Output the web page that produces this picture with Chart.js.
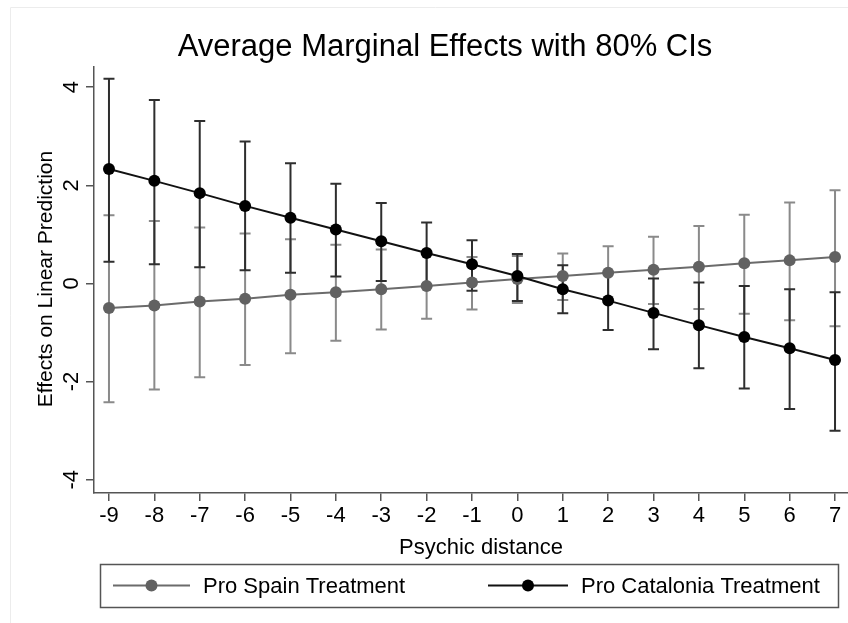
<!DOCTYPE html>
<html>
<head>
<meta charset="utf-8">
<script src="https://cdn.jsdelivr.net/npm/chart.js@4/dist/chart.umd.min.js"></script>
<style>
    html, body { margin: 0; padding: 0; background: #fff; overflow: hidden; }
    #wrap { width: 860px; height: 623px; }
</style>
</head>
<body>
<div id="wrap"><canvas id="myChart" width="860" height="623"></canvas></div>
<script>
// values
const distance = [-9, -8, -7, -6, -5, -4, -3, -2, -1, 0, 1, 2, 3, 4, 5, 6, 7];

const spainEffect = [-0.50, -0.45, -0.37, -0.31, -0.23, -0.18, -0.12, -0.05, 0.02, 0.09, 0.15, 0.22, 0.28, 0.34, 0.41, 0.47, 0.54];
const spainUpper = [1.39, 1.27, 1.14, 1.02, 0.90, 0.79, 0.69, 0.61, 0.54, 0.56, 0.61, 0.76, 0.95, 1.17, 1.40, 1.65, 1.90];
const spainLower = [-2.42, -2.16, -1.91, -1.66, -1.42, -1.17, -0.94, -0.72, -0.53, -0.40, -0.34, -0.38, -0.42, -0.52, -0.62, -0.75, -0.87];

const cataloniaEffect = [2.33, 2.09, 1.84, 1.58, 1.34, 1.10, 0.86, 0.62, 0.39, 0.15, -0.12, -0.35, -0.60, -0.85, -1.09, -1.32, -1.56];
const cataloniaUpper = [4.17, 3.74, 3.31, 2.89, 2.45, 2.03, 1.64, 1.24, 0.88, 0.60, 0.37, 0.22, 0.10, 0.02, -0.05, -0.12, -0.18];
const cataloniaLower = [0.44, 0.39, 0.33, 0.27, 0.22, 0.14, 0.05, -0.05, -0.15, -0.36, -0.61, -0.95, -1.34, -1.73, -2.14, -2.56, -3.00];

const xTicks = [-9, -8, -7, -6, -5, -4, -3, -2, -1, 0, 1, 2, 3, 4, 5, 6, 7];
const yTicks = [-4, -2, 0, 2, 4];

const seriesNames = ['Pro Spain Treatment', 'Pro Catalonia Treatment'];

const FONT = '"Liberation Sans", Arial, Helvetica, sans-serif';

function points(values) {
    return distance.map(function (d, i) { return { x: d, y: values[i] }; });
}

// capped CI bars, drawn under the lines and dots
const ciPlugin = {
    id: 'ciBars',
    beforeDatasetsDraw(chart) {
        const ctx = chart.ctx;
        const xs = chart.scales.x;
        const ys = chart.scales.y;
        const bars = [
            { lo: spainLower, hi: spainUpper, color: '#8a8a8a' },
            { lo: cataloniaLower, hi: cataloniaUpper, color: '#2e2e2e' }
        ];
        ctx.save();
        ctx.lineWidth = 2;
        for (const b of bars) {
            ctx.strokeStyle = b.color;
            for (let i = 0; i < distance.length; i++) {
                const px = xs.getPixelForValue(distance[i]);
                const top = ys.getPixelForValue(b.hi[i]);
                const bot = ys.getPixelForValue(b.lo[i]);
                ctx.beginPath();
                ctx.moveTo(px, top);
                ctx.lineTo(px, bot);
                ctx.moveTo(px - 5.5, top);
                ctx.lineTo(px + 5.5, top);
                ctx.moveTo(px - 5.5, bot);
                ctx.lineTo(px + 5.5, bot);
                ctx.stroke();
            }
        }
        ctx.restore();
    }
};

// titles, rotated y labels, legend box and outer frame
const textPlugin = {
    id: 'texts',
    afterDraw(chart) {
        const ctx = chart.ctx;
        const ys = chart.scales.y;
        ctx.save();

        ctx.strokeStyle = '#ececec';
        ctx.lineWidth = 1;
        ctx.beginPath();
        ctx.moveTo(10.5, 640);
        ctx.lineTo(10.5, 7.5);
        ctx.lineTo(900, 7.5);
        ctx.stroke();

        ctx.fillStyle = '#000';
        ctx.font = '31px ' + FONT;
        ctx.textAlign = 'center';
        ctx.textBaseline = 'alphabetic';
        ctx.fillText('Average Marginal Effects with 80% CIs', 445, 56);

        ctx.font = '22px ' + FONT;
        ctx.fillText('Psychic distance', 481, 554);

        // y tick labels, rotated like the original
        ctx.textBaseline = 'middle';
        for (const t of yTicks) {
            const py = ys.getPixelForValue(t);
            ctx.save();
            ctx.translate(72, py);
            ctx.rotate(-Math.PI / 2);
            ctx.fillText(String(t), 0, 0);
            ctx.restore();
        }

        ctx.save();
        ctx.font = '21px ' + FONT;
        ctx.translate(46, 279);
        ctx.rotate(-Math.PI / 2);
        ctx.fillText('Effects on Linear Prediction', 0, 0);
        ctx.restore();

        // legend
        ctx.strokeStyle = '#555';
        ctx.lineWidth = 1.5;
        ctx.strokeRect(100.5, 564.5, 738, 43);

        const items = [
            { x1: 113, x2: 190, line: '#6b6b6b', dot: '#616161', tx: 203 },
            { x1: 488, x2: 568, line: '#111', dot: '#000', tx: 581 }
        ];
        ctx.font = '22px ' + FONT;
        ctx.textAlign = 'left';
        ctx.textBaseline = 'alphabetic';
        items.forEach(function (it, i) {
            ctx.strokeStyle = it.line;
            ctx.lineWidth = 2;
            ctx.beginPath();
            ctx.moveTo(it.x1, 585.5);
            ctx.lineTo(it.x2, 585.5);
            ctx.stroke();
            ctx.fillStyle = it.dot;
            ctx.beginPath();
            ctx.arc((it.x1 + it.x2) / 2, 585.5, 6, 0, Math.PI * 2);
            ctx.fill();
            ctx.fillStyle = '#000';
            ctx.fillText(seriesNames[i], it.tx, 593);
        });

        ctx.restore();
    }
};

let ctx = document.getElementById('myChart').getContext('2d');
let myChart = new Chart(ctx, {
    type: 'line',
    data: {
        datasets: [{
            label: seriesNames[0],
            data: points(spainEffect),
            borderColor: '#6b6b6b',
            borderWidth: 2,
            pointRadius: 6,
            pointBorderWidth: 0,
            pointBackgroundColor: '#616161',
            order: 1
        }, {
            label: seriesNames[1],
            data: points(cataloniaEffect),
            borderColor: '#111',
            borderWidth: 2,
            pointRadius: 6,
            pointBorderWidth: 0,
            pointBackgroundColor: '#000',
            order: 0
        }]
    },
    options: {
        responsive: false,
        animation: false,
        events: [],
        layout: { padding: { left: 0, top: 67, right: 10, bottom: 0 } },
        plugins: {
            legend: { display: false },
            title: { display: false },
            tooltip: { enabled: false }
        },
        scales: {
            x: {
                type: 'linear',
                min: -9.33,
                max: 7.33,
                afterBuildTicks: function (scale) {
                    scale.ticks = xTicks.map(function (v) { return { value: v }; });
                },
                afterFit: function (scale) { scale.height = 130; },
                border: { display: true, color: '#555', width: 1.5 },
                grid: { drawOnChartArea: false, drawTicks: true, tickLength: 8, color: '#555', lineWidth: 1.5 },
                ticks: {
                    color: '#000',
                    padding: 2,
                    maxRotation: 0,
                    autoSkip: false,
                    font: { family: FONT, size: 22 }
                }
            },
            y: {
                type: 'linear',
                min: -4.27,
                max: 4.41,
                afterBuildTicks: function (scale) {
                    scale.ticks = yTicks.map(function (v) { return { value: v }; });
                },
                afterFit: function (scale) { scale.width = 94; },
                border: { display: true, color: '#555', width: 1.5 },
                grid: { drawOnChartArea: false, drawTicks: true, tickLength: 8, color: '#555', lineWidth: 1.5 },
                ticks: { display: false }
            }
        }
    },
    plugins: [ciPlugin, textPlugin]
});
</script>
</body>
</html>
